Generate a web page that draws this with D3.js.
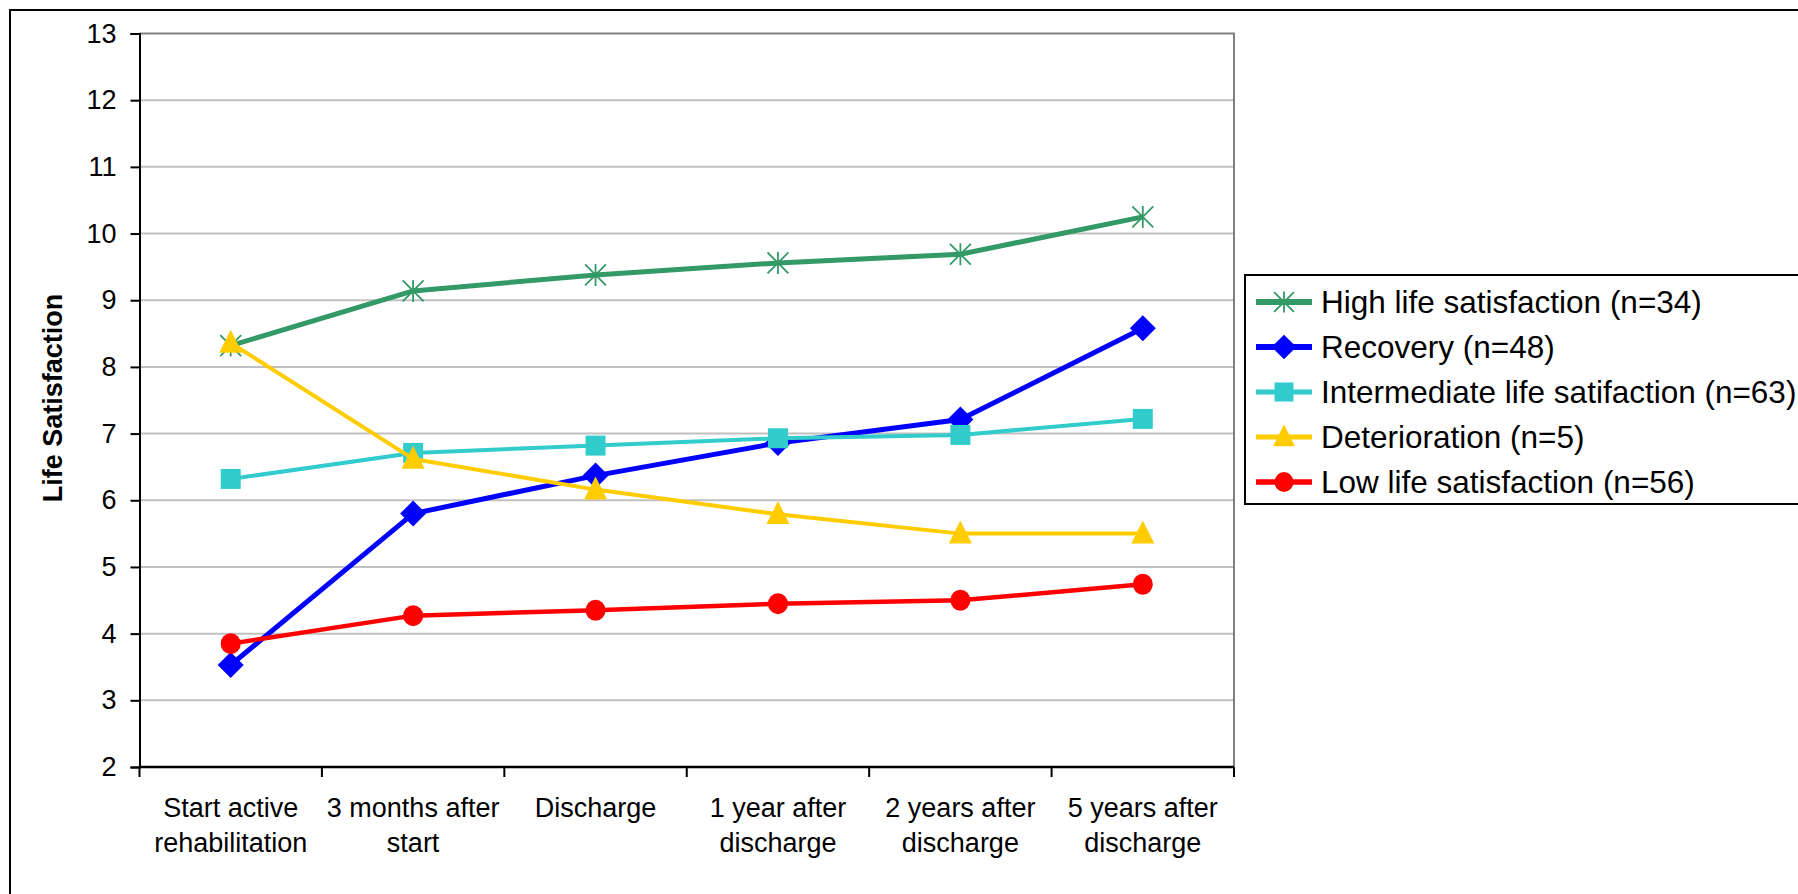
<!DOCTYPE html>
<html>
<head>
<meta charset="utf-8">
<script src="https://cdn.jsdelivr.net/npm/d3@7"></script>
<style>
  body { margin: 0; background: #fff; }
  svg { display: block; }
  text { font-family: "Liberation Sans", Arial, sans-serif; fill: #000; }
</style>
</head>
<body>
<div id="chart"></div>
<script>
// data
const categories = ["Start active rehabilitation", "3 months after start", "Discharge",
  "1 year after discharge", "2 years after discharge", "5 years after discharge"];
const categoryLines = [["Start active", "rehabilitation"], ["3 months after", "start"], ["Discharge"],
  ["1 year after", "discharge"], ["2 years after", "discharge"], ["5 years after", "discharge"]];

const highValues = [8.32, 9.14, 9.38, 9.56, 9.69, 10.25];
const recoveryValues = [3.53, 5.80, 6.37, 6.86, 7.21, 8.58];
const intermediateValues = [6.32, 6.71, 6.82, 6.93, 6.98, 7.22];
const deteriorationValues = [8.36, 6.62, 6.16, 5.79, 5.50, 5.50];
const lowValues = [3.85, 4.27, 4.35, 4.45, 4.50, 4.74];

const seriesNames = ["High life satisfaction (n=34)", "Recovery (n=48)",
  "Intermediate life satifaction (n=63)", "Deterioration (n=5)", "Low life satisfaction (n=56)"];
const yTicks = [2, 3, 4, 5, 6, 7, 8, 9, 10, 11, 12, 13];

const width = 1798;
const height = 894;

const svg = d3.select("#chart")
    .append("svg")
    .attr("width", width)
    .attr("height", height);

// outer chart border (runs off the right and bottom edges)
svg.append("rect")
    .attr("x", 10).attr("y", 10)
    .attr("width", 1900).attr("height", 1000)
    .attr("fill", "#fff")
    .attr("stroke", "#000")
    .attr("stroke-width", 2);

const x = d3.scaleBand().domain(categories).range([139.5, 1234]);
const y = d3.scaleLinear().domain([2, 13]).range([767, 33.5]);

// gridlines
svg.append("g")
    .selectAll("line")
    .data(yTicks.filter(d => d > 2 && d < 13))
    .enter()
    .append("line")
    .attr("x1", 139.5).attr("x2", 1234)
    .attr("y1", d => y(d)).attr("y2", d => y(d))
    .attr("stroke", "#c0c0c0")
    .attr("stroke-width", 2);

// plot area top / right border
svg.append("path")
    .attr("d", `M139.5,${y(13)}H1234V${y(2)}`)
    .attr("fill", "none")
    .attr("stroke", "#808080")
    .attr("stroke-width", 2);

// y axis
const yAxis = svg.append("g")
    .attr("transform", "translate(139.5,0)")
    .call(d3.axisLeft(y).tickValues(yTicks).tickSize(9).tickPadding(14).tickFormat(d3.format("d")));
yAxis.select(".domain").attr("stroke", "#000").attr("stroke-width", 2);
yAxis.selectAll(".tick line").attr("stroke", "#000").attr("stroke-width", 2);
yAxis.selectAll(".tick text")
    .style("font-size", "27px")
    .style("font-family", "'Liberation Sans', Arial, sans-serif")
    .attr("fill", "#000");

// x axis line and ticks at category boundaries
svg.append("line")
    .attr("x1", 139.5).attr("x2", 1234)
    .attr("y1", y(2)).attr("y2", y(2))
    .attr("stroke", "#000").attr("stroke-width", 2.5);

const bounds = categories.map(c => x(c)).concat([x.range()[1]]);
svg.append("g")
    .selectAll("line")
    .data(bounds)
    .enter()
    .append("line")
    .attr("x1", d => d).attr("x2", d => d)
    .attr("y1", y(2)).attr("y2", y(2) + 10)
    .attr("stroke", "#000").attr("stroke-width", 2);

// x labels, two lines each
const xLabels = svg.append("g")
    .selectAll("text")
    .data(categories)
    .enter()
    .append("text")
    .attr("text-anchor", "middle")
    .style("font-size", "27px");
xLabels.selectAll("tspan")
    .data((d, i) => categoryLines[i].map(t => ({ t: t, c: d })))
    .enter()
    .append("tspan")
    .attr("x", d => x(d.c) + x.bandwidth() / 2)
    .attr("y", (d, j) => 817 + j * 35)
    .text(d => d.t);

// y axis title
svg.append("text")
    .attr("transform", "translate(62,398) rotate(-90)")
    .attr("text-anchor", "middle")
    .style("font-size", "27px")
    .style("font-weight", "bold")
    .text("Life Satisfaction");

// series
const series = [
  { name: seriesNames[0], values: highValues, color: "#339966", width: 5, marker: "star" },
  { name: seriesNames[1], values: recoveryValues, color: "#0000ff", width: 5, marker: "diamond" },
  { name: seriesNames[2], values: intermediateValues, color: "#33cccc", width: 4, marker: "square" },
  { name: seriesNames[3], values: deteriorationValues, color: "#ffcc00", width: 4, marker: "triangle" },
  { name: seriesNames[4], values: lowValues, color: "#ff0000", width: 4.5, marker: "circle" }
];

function drawMarker(g, type, color, cx, cy, scale) {
  const s = scale || 1;
  if (type === "star") {
    const r = 11 * s;
    const d = r * 0.95;
    g.append("path")
        .attr("d", `M${cx},${cy - r}V${cy + r}M${cx - d},${cy - d}L${cx + d},${cy + d}M${cx - d},${cy + d}L${cx + d},${cy - d}`)
        .attr("stroke", color).attr("stroke-width", 1.8).attr("fill", "none");
  } else if (type === "diamond") {
    const r = 13 * s;
    g.append("path")
        .attr("d", `M${cx},${cy - r}L${cx + r},${cy}L${cx},${cy + r}L${cx - r},${cy}Z`)
        .attr("fill", color);
  } else if (type === "square") {
    const r = 10 * s;
    g.append("rect")
        .attr("x", cx - r).attr("y", cy - r)
        .attr("width", 2 * r).attr("height", 2 * r)
        .attr("fill", color);
  } else if (type === "triangle") {
    const r = 11.5 * s;
    g.append("path")
        .attr("d", `M${cx},${cy - r * 1.15}L${cx + r},${cy + r * 0.85}L${cx - r},${cy + r * 0.85}Z`)
        .attr("fill", color);
  } else {
    g.append("ellipse")
        .attr("cx", cx).attr("cy", cy)
        .attr("rx", 10 * s).attr("ry", 10.5 * s)
        .attr("fill", color);
  }
}

const line = d3.line()
    .x((d, i) => x(categories[i]) + x.bandwidth() / 2)
    .y(d => y(d));

series.forEach(function (s) {
  const g = svg.append("g");
  g.append("path")
      .datum(s.values)
      .attr("d", line)
      .attr("fill", "none")
      .attr("stroke", s.color)
      .attr("stroke-width", s.width)
      .attr("stroke-linejoin", "round");
  s.values.forEach(function (v, i) {
    drawMarker(g, s.marker, s.color, x(categories[i]) + x.bandwidth() / 2, y(v));
  });
});

// legend
const legend = svg.append("g");
legend.append("rect")
    .attr("x", 1245).attr("y", 275)
    .attr("width", 700).attr("height", 229)
    .attr("fill", "#fff")
    .attr("stroke", "#000")
    .attr("stroke-width", 2);

series.forEach(function (s, i) {
  const ly = 302 + i * 45;
  legend.append("line")
      .attr("x1", 1256).attr("x2", 1312)
      .attr("y1", ly).attr("y2", ly)
      .attr("stroke", s.color)
      .attr("stroke-width", s.width + 1);
  drawMarker(legend, s.marker, s.color, 1284, ly, 0.95);
  legend.append("text")
      .attr("x", 1321)
      .attr("y", ly)
      .attr("dy", "0.36em")
      .style("font-size", "31.5px")
      .text(s.name);
});
</script>
</body>
</html>
